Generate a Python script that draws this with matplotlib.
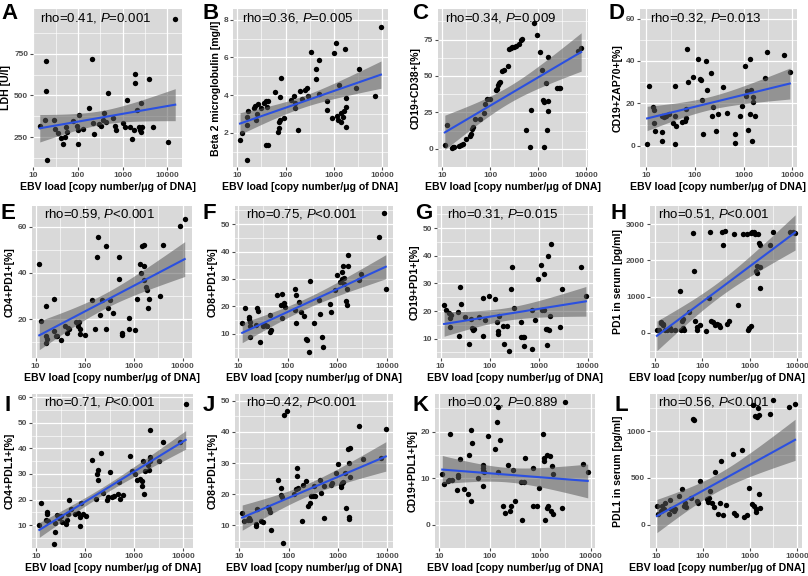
import numpy as np
import matplotlib
matplotlib.use('Agg')
from matplotlib import pyplot as plt

plt.rcParams['font.family'] = ['Liberation Sans', 'DejaVu Sans']
plt.rcParams['mathtext.fontset'] = 'custom'
plt.rcParams['mathtext.rm'] = 'Liberation Sans'
plt.rcParams['mathtext.it'] = 'Liberation Sans:italic'

# ---- data (EBV load in copies/ug DNA) ----
ldh_ebv = [14, 19.7, 19.4, 18.6, 20.4, 29, 31, 35, 42, 47, 52, 57, 54, 78, 93, 102, 102, 107, 129, 174,
           209, 220, 227, 296, 325, 356, 389, 427, 465, 603, 661, 724, 1040, 1130, 1240, 1480, 1620, 1780,
           1860, 1860, 2140, 2310, 2400, 2530, 2530, 2760, 3960, 4700, 10500, 15000]
ldh = [314, 710, 526, 354, 114, 354, 300, 274, 246, 210, 250, 280, 310, 346, 314, 290, 206, 380, 300, 426,
       720, 334, 270, 330, 314, 350, 394, 340, 514, 366, 314, 290, 334, 310, 470, 310, 240, 290,
       574, 630, 410, 310, 290, 280, 454, 310, 600, 310, 220, 960]

b2m_ebv = [11.4, 12.3, 15.7, 16.2, 16.7, 16.2, 22.4, 23.1, 24.3, 25.5, 26.3, 30.9, 36.3, 39.3, 41.2, 42.6,
           39.3, 44, 58.8, 69, 72.5, 73.6, 74.8, 78.5, 76, 92, 127, 150, 154, 159, 181, 196, 220, 250, 272,
           293, 334, 419, 427, 493, 493, 713, 713, 908, 983, 1120, 1150, 1210, 1250, 1360, 1420, 1520, 1600,
           1650, 1730, 1730, 1730, 2800, 3300, 7100, 9300]
b2m = [1.64, 2.0, 2.86, 2.4, 3.18, 0.57, 3.3, 3.43, 2.68, 3.0, 3.52, 3.3, 3.57, 3.66, 3.36, 3.66,
       1.34, 1.34, 4.14, 2.05, 2.23, 2.59, 3.89, 4.91, 2.66, 2.77, 3.75, 3.93, 3.57, 3.3, 2.14, 4.2, 3.79, 4.29, 4.38,
       3.93, 6.29, 4.86, 5.36, 5.84, 4.07, 3.21, 3.66, 2.77, 6.25, 6.79, 2.89, 2.68, 4.54, 2.59, 3.04, 2.86, 3.13,
       6.43, 3.39, 3.84, 2.32, 4.38, 5.39, 3.93, 7.59]

cd38_ebv = [11.4, 12.8, 15.8, 17, 17.8, 22.9, 24.5, 26.9, 31.6, 37.2, 40.7, 42.7, 43.7, 47.9, 61.7, 74, 77.6,
            85, 98, 129, 138, 145, 151, 158, 178, 195, 229, 245, 269, 288, 316, 347, 398, 437, 468, 562, 661,
            692, 813, 933, 1100, 1175, 1230, 1290, 1320, 1450, 1510, 1620, 1620, 1620, 2450, 2630, 2880, 6600, 7760]
cd38 = [2.7, 16, 0.4, 1.1, 1.5, 2, 2.7, 3.1, 6.4, 8.6, 10.4, 13.7, 15.3, 20.4, 20.4, 24.8, 30.8,
        34.3, 34.3, 40.3, 41.4, 43.6, 45.4, 46.2, 53.5, 54.2, 56.9, 68.4, 69, 69.7, 70.1, 70.5, 71.7, 75, 75.7, 12.6, 0.9,
        26.3, 86.7, 77.9, 66.8, 54.2, 33.6, 32.1, 1.5, 45.4, 12.6, 33, 25.9, 62.8, 41.8, 41.8, 41.8, 67, 69]

zap_ebv = [10.4, 11.5, 13.5, 14.1, 14.5, 14.8, 21.4, 21.4, 21.4, 23.4, 25.1, 29.5, 35.5, 38, 38, 39.8, 38,
           55, 61.7, 66, 66, 69, 72.4, 89, 115, 129, 135, 141, 148, 166, 178, 209, 224, 240, 269, 295, 380,
           457, 661, 676, 851, 933, 1070, 1100, 1200, 1230, 1320, 1320, 1410, 1480, 1550, 1580, 1700, 2690,
           3020, 6760, 8910]
zap = [1, 28.1, 18.2, 16.7, 10.6, 7.1, 14.2, 6.4, 2.1, 13.5, 14.2, 14.9, 10.6, 14.2, 28.1, 9.2, 1,
       11.3, 11.6, 17.3, 13.2, 45.7, 30.2, 32.6, 41.1, 31.6, 30.8, 21.7, 5.7, 40.1, 26.2, 34.5, 13.9, 18.4, 6.8, 14.9, 27.9,
       15.3, 1.1, 5.4, 14.2, 18.9, 37.6, 23.7, 26, 7.5, 41.1, 14.9, 26.5, 2.4, 20.6, 23.1, 14.2, 32.2,
       44, 42.6, 34.8]

cd4pd1_ebv = [11.9, 12.9, 16.1, 16.1, 16.7, 17.3, 24.3, 24.3, 25.6, 27, 33, 39, 44.6, 46.4, 48, 65.3, 73.6,
              77.4, 80, 81.3, 100, 141, 166, 182, 188, 209, 227, 269, 278, 302, 331, 380, 501, 501, 579, 579,
              813, 813, 1050, 1175, 1350, 1410, 1480, 1620, 1620, 1660, 1820, 1910, 2000, 2040, 3390, 3890,
              8910, 11000]
cd4pd1 = [43.7, 19.3, 9.5, 12.7, 25.9, 11.5, 28.8, 14.9, 12.7, 12.7, 11.2, 17.1, 14.2, 16.4, 15.6, 18.6, 17.1,
          18.6, 13.7, 15.6, 13, 28.1, 15.6, 47.1, 55.5, 21.9, 28.1, 51.5, 15.6, 24.7, 28.1, 22.5, 47.1, 37.2, 13.9, 13.2,
          20.3, 15.6, 15.2, 28.8, 43.7, 39.8, 51.5, 52.2, 43, 36.9, 34, 32.5, 24.7, 28.8, 30, 52.2,
          60.3, 63.2]

cd8pd1_ebv = [12.3, 14, 16.5, 17, 17.6, 17.9, 17.6, 23.5, 24.7, 25.5, 27.7, 31.5, 35.2, 39.5, 43.5, 45, 46.4,
              62, 73, 76.6, 79, 83, 88.5, 139, 144, 146, 151, 172, 186, 209, 237, 245, 266, 288, 339, 417, 447,
              490, 507, 724, 736, 891, 968, 1140, 1230, 1230, 1290, 1340, 1380, 1510, 1570, 1570, 1620, 1650,
              2760, 3020, 6760, 8510, 9330]
cd8pd1 = [13.9, 19.5, 16, 15.4, 14.5, 8.8, 12.9, 13.3, 19.6, 18.4, 6.9, 12.7, 13.3, 12.9, 16.9, 10.5, 11.4,
          24.1, 20.5, 24.5, 15.7, 21.1, 19.9, 18.7, 26.5, 24.1, 14.1, 21.7, 18.1, 16.5, 8.2, 7.8, 3.3, 29.3, 14.1, 22.5, 17.2,
          9, 5.2, 20.8, 18.1, 25.9, 31.3, 28.9, 30.1, 32.5, 34.9, 28.3, 30.5, 22, 20.5, 26.5, 34.9, 38.6,
          29.8, 31.7, 45.2, 54.2, 26.5]

cd19pd1_ebv = [11.8, 12.8, 15.1, 15.8, 16.4, 15.8, 22.8, 23.5, 24.7, 25.9, 31.6, 38.5, 42.5, 44, 45.4, 47.7,
               61, 74.3, 74.3, 82, 96.8, 128, 144, 151, 151, 158, 187, 200, 227, 247, 269, 291, 316, 427, 440,
               479, 501, 501, 719, 719, 851, 968, 1140, 1175, 1280, 1280, 1390, 1510, 1510, 1580, 1640, 1700,
               1780, 2690, 3060, 7190, 9200]
cd19pd1 = [22, 20.5, 19.3, 17.5, 18.7, 14.2, 19.6, 10.8, 28.8, 22.4, 17.8, 8.2, 17.2, 13.9, 13.3, 13.5,
           17.9, 10.8, 24.8, 16.7, 25.6, 24.2, 15.9, 12.7, 11.8, 18.1, 14.5, 8.2, 14.5, 5.4, 28.1, 36.1, 21.2, 15.9, 10.6,
           10.6, 7.2, 10.6, 6.2, 20.5, 16.7, 31.5, 36.5, 20.3, 20.3, 33.3, 13.5, 7.8, 13.5, 40, 13, 18.1,
           44.4, 14.2, 27.8, 35.9, 25.6]

spd1_ebv = [11.1, 12.2, 13.3, 13.8, 14.6, 15.1, 16.6, 18.1, 20.9, 22.5, 26.9, 34, 36, 37.3, 38.7, 39.4, 40.8,
            53.5, 64.1, 66.4, 70.2, 76.7, 79.5, 88.7, 120, 139, 144, 152, 173, 189, 207, 226, 235, 261, 281,
            297, 336, 375, 466, 557, 731, 875, 925, 993, 1050, 1090, 1150, 1250, 1320, 1370, 1420, 1420, 1500,
            1590, 1640, 1640, 1640, 2720, 3090, 6970, 8040, 9110]
spd1 = [90, 90, 297, 270, 207, 252, 90, 72, 144, 72, 72, 1153, 72, 324, 387, 144, 90,
        567, 2748, 1712, 342, 162, 90, 207, 54, 955, 2775, 324, 297, 207, 252, 207, 162, 2793, 2432,
        2820, 252, 342, 2730, 775, 2730, 2730, 72, 144, 180, 2757, 2793, 2793, 2730, 1712, 1856, 1650, 2730,
        2486, 2432, 1243, 1829, 2414, 2793, 2775, 2775, 2757]

cd4pdl1_ebv = [11.5, 12.5, 15.6, 16.2, 16.7, 17.6, 22.8, 23.6, 23.6, 26.2, 29.5, 31.1, 33.3, 39.5, 41.6, 43.9,
               47, 52, 61.8, 69.7, 75.9, 78.7, 82.8, 90.2, 104, 139, 165, 173, 179, 179, 206, 224, 275, 290,
               311, 357, 389, 462, 486, 520, 577, 813, 887, 1035, 1150, 1290, 1410, 1460, 1490, 1540, 1680,
               1920, 1990, 2060, 2090, 2060, 3210, 3820, 8570, 11100]
cd4pdl1 = [10.1, 18.5, 12.1, 15, 14.2, 11.6, 2.8, 7.2, 10.8, 14, 12.8, 13.4, 11.4, 10.5, 12, 14.4,
           19.8, 16.2, 14.4, 14.9, 9.5, 13.1, 18.5, 14.4, 13.6, 35.4, 20.4, 29.8, 27.7, 31.6, 38, 22.6, 19.8, 21.1,
           30.7, 21.1, 21.3, 22.1, 26.8, 20.4, 21.7, 37.1, 31.1, 30.1, 27.7, 28.1, 27.2, 25.2, 35.2, 22.3, 31.1,
           33.3, 31.6, 34.9, 47, 36.5, 35.2, 42.3, 42.3, 57.3]

cd8pdl1_ebv = [11.4, 12.4, 14.7, 15.9, 16.4, 21.5, 22.9, 22.2, 27.5, 30.9, 37.8, 39.6, 41.7, 44.6, 60.1, 71,
               71, 73.3, 77, 80.9, 91, 127, 143, 150, 150, 157, 186, 199, 226, 246, 268, 291, 316, 327, 343,
               441, 455, 520, 537, 724, 750, 929, 1010, 1150, 1190, 1230, 1290, 1410, 1450, 1610, 1660, 1720,
               1720, 1780, 1810, 2740, 3230, 7410, 9500]
cd8pdl1 = [13.8, 11.3, 11.8, 12.2, 11.7, 9.9, 15.1, 10.3, 11.3, 11, 15.9, 15.1, 14.2, 8.4, 24.7, 22,
           19.6, 19.2, 4.3, 45.4, 46.8, 19.9, 21.7, 28.5, 26, 22, 11.3, 23.1, 24.2, 16.3, 17.2, 19.4, 19.4, 22.6, 19.4,
           24.7, 20.4, 22.6, 12.4, 22.8, 23.7, 26.9, 29.6, 22.4, 22.8, 23.5, 23.9, 26.9, 15.6, 34.6, 12.7, 12,
           30.1, 34.9, 25.6, 41.9, 31.4, 31.7, 40.9]

cd19pdl1_ebv = [11.4, 12.4, 14.6, 15.4, 15.9, 18.1, 22.1, 22.9, 22.9, 26.1, 30.8, 37.5, 39.4, 41.4, 41.4, 44.3,
                59.6, 72.6, 72.6, 72.6, 72.6, 76.4, 90.2, 125, 141, 148, 148, 161, 183, 196, 231, 255, 264, 286,
                311, 419, 433, 471, 494, 711, 735, 867, 957, 1130, 1170, 1210, 1270, 1380, 1380, 1430, 1570,
                1630, 1680, 1770, 1770, 2760, 3150, 7190, 8770]
cd19pdl1 = [10.8, 8.8, 9.4, 9.6, 19.4, 9.6, 7.4, 10.2, 10.7, 14.2, 7.7, 6.6, 15, 5.2, 20.4, 17.6,
            10.1, 8.4, 12.8, 12.2, 11.6, 11.3, 19.1, 16.2, 22.1, 25.4, 11.3, 18.2, 4, 2.6, 12.8, 3, 4, 11.8,
            5, 9.2, 1.1, 9.2, 14.3, 4, 12.1, 4.1, 8, 19.6, 13.8, 14.3, 1.1, 3.5, 15, 4, 14.8,
            3, 12.6, 11, 2.3, 3.5, 26.4, 13, 11.4]

spdl1_ebv = [10.5, 11.1, 12.6, 13.8, 14.6, 15.7, 18.8, 19.9, 20.9, 23.8, 25.1, 31.1, 36, 38.7, 40.8, 44.7,
             56.5, 61.8, 64.1, 74, 76.7, 88.7, 121, 127, 137, 144, 158, 173, 182, 207, 235, 248, 271, 313,
             426, 466, 509, 668, 731, 875, 957, 1110, 1150, 1190, 1260, 1320, 1370, 1420, 1500, 1530, 1590,
             1640, 2720, 3090, 6710, 9120]
spdl1 = [203, 119, 142, 203, 169, 227, 119, 264, 169, 142, 163, 305, 380, 203, 237, 186,
         288, 1136, 1119, 254, 237, 468, 271, 244, 288, 356, 237, 186, 569, 119, 237, 685, 108, 210,
         753, 129, 108, 797, 85, 108, 390, 220, 1278, 203, 1160, 136, 163, 1153, 1254, 332, 1180,
         176, 1186, 1339, 1261, 1288]

panels = [
    ('A', 'LDH [U/l]', ('0.41', '=0.001'), ldh_ebv, ldh, [250, 500, 750], (70, 1020)),
    ('B', 'Beta 2 microglobulin [mg/l]', ('0.36', '=0.005'), b2m_ebv, b2m, [2, 4, 6, 8], (0.18, 8.57)),
    ('C', 'CD19+CD38+[%]', ('0.34', '=0.009'), cd38_ebv, cd38, [0, 25, 50, 75], (-7.3, 96)),
    ('D', 'CD19+ZAP70+[%]', ('0.32', '=0.013'), zap_ebv, zap, [0, 20, 40, 60], (-2.8, 64.5)),
    ('E', 'CD4+PD1+[%]', ('0.59', '<0.001'), cd4pd1_ebv, cd4pd1, [20, 40, 60], (3.2, 69)),
    ('F', 'CD8+PD1+[%]', ('0.75', '<0.001'), cd8pd1_ebv, cd8pd1, [10, 20, 30, 40, 50], (1.2, 56.6)),
    ('G', 'CD19+PD1+[%]', ('0.31', '=0.015'), cd19pd1_ebv, cd19pd1, [10, 20, 30, 40, 50], (3, 58)),
    ('H', 'PD1 in serum [pg/ml]', ('0.51', '<0.001'), spd1_ebv, spd1, [0, 1000, 2000, 3000], (-690, 3500)),
    ('I', 'CD4+PDL1+[%]', ('0.71', '<0.001'), cd4pdl1_ebv, cd4pdl1, [10, 20, 30, 40, 50, 60], (1.1, 61.2)),
    ('J', 'CD8+PDL1+[%]', ('0.42', '<0.001'), cd8pdl1_ebv, cd8pdl1, [10, 20, 30, 40, 50], (2.7, 52.2)),
    ('K', 'CD19+PDL1+[%]', ('0.02', '=0.889'), cd19pdl1_ebv, cd19pdl1, [0, 10, 20], (-0.7, 28.1)),
    ('L', 'PDL1 in serum [pg/ml]', ('0.56', '<0.001'), spdl1_ebv, spdl1, [0, 500, 1000], (-150, 1400)),
]

# axes boxes in pixels: left, top, right, bottom ; letter x, letter y ; x-label centre (axes frac)
boxes = [
    (33, 9, 182, 167, 1, 3, 0.5), (233, 9, 388, 167, 203, 3, 0.5), (438, 9, 588, 167, 412, 3, 0.5),
    (640, 9, 797, 167, 608, 3, 0.5),
    (32, 206, 192, 358, 1, 203, 0.5), (235, 206, 393, 358, 203, 203, 0.5), (437, 206, 593, 358, 415, 203, 0.5),
    (650, 206, 802, 358, 611, 203, 0.44),
    (32, 394, 193, 548, 5, 395, 0.5), (235, 394, 393, 548, 203, 395, 0.5), (435, 394, 595, 548, 412, 395, 0.5),
    (650, 394, 802, 548, 614, 395, 0.44),
]

W, H = 808, 576
fig = plt.figure(figsize=(W / 100, H / 100), dpi=100)
tick_col = '#4d4d4d'

for (letter, ylab, (rho, pval), xs, ys, yticks, ylim), (l, t, r, b, lx, ly, xlc) in zip(panels, boxes):
    ax = fig.add_axes([l / W, 1 - b / H, (r - l) / W, (b - t) / H])
    ax.set_facecolor('#d9d9d9')
    for s in ax.spines.values():
        s.set_visible(False)

    x = np.array(xs, dtype=float)
    y = np.array(ys, dtype=float)
    lg = np.log10(x)

    # lm fit on log10 scale with 95% band
    n = len(lg)
    slope, icpt = np.polyfit(lg, y, 1)
    grid = np.linspace(lg.min(), lg.max(), 100)
    res = y - (icpt + slope * lg)
    sd = np.sqrt(np.sum(res ** 2) / (n - 2))
    se = sd * np.sqrt(1 / n + (grid - lg.mean()) ** 2 / np.sum((lg - lg.mean()) ** 2))
    fit = icpt + slope * grid

    ax.scatter(x, y, s=15, c='black', linewidths=0, zorder=3)
    ax.fill_between(10 ** grid, fit - 2.0 * se, fit + 2.0 * se, color='#5a5a5a', alpha=0.55, lw=0, zorder=4)
    ax.plot(10 ** grid, fit, color='#2b50e0', lw=1.5, zorder=5)

    ax.set_xscale('log')
    rng = lg.max() - lg.min()
    ax.set_xlim(10 ** (lg.min() - 0.05 * rng), 10 ** (lg.max() + 0.05 * rng))
    ax.set_ylim(*ylim)

    ax.set_xticks([10, 100, 1000, 10000], labels=['10', '100', '1000', '10000'], fontweight='bold')
    ax.set_xticks([10 ** 1.5, 10 ** 2.5, 10 ** 3.5], minor=True)
    ax.set_yticks(yticks, labels=[str(v) for v in yticks], fontweight='bold')
    step = yticks[1] - yticks[0]
    ax.set_yticks(np.arange(yticks[0] - step / 2, ylim[1], step), minor=True)
    ax.tick_params(which='major', length=2.5, width=0.8, color=tick_col, labelcolor=tick_col,
                   labelsize=6, pad=1)
    ax.tick_params(which='minor', length=0)
    ax.grid(which='major', color='white', lw=0.9)
    ax.grid(which='minor', color='white', lw=0.45)
    ax.set_axisbelow(True)

    ax.set_xlabel('EBV load [copy number/\u03bcg of DNA]', fontsize=7.6, fontweight='bold', labelpad=2)
    ax.xaxis.label.set_x(xlc)
    ax.set_ylabel(ylab, fontsize=7.6, fontweight='bold', labelpad=2)

    ax.text(0.42, 0.945, 'rho=' + rho + ', $\\mathit{P}$' + pval, transform=ax.transAxes,
            ha='center', va='center', fontsize=9.5, zorder=6)

    fig.text(lx / W, 1 - ly / H, letter, fontsize=16, fontweight='bold', ha='left', va='top')

fig.savefig('out.png', dpi=100)
